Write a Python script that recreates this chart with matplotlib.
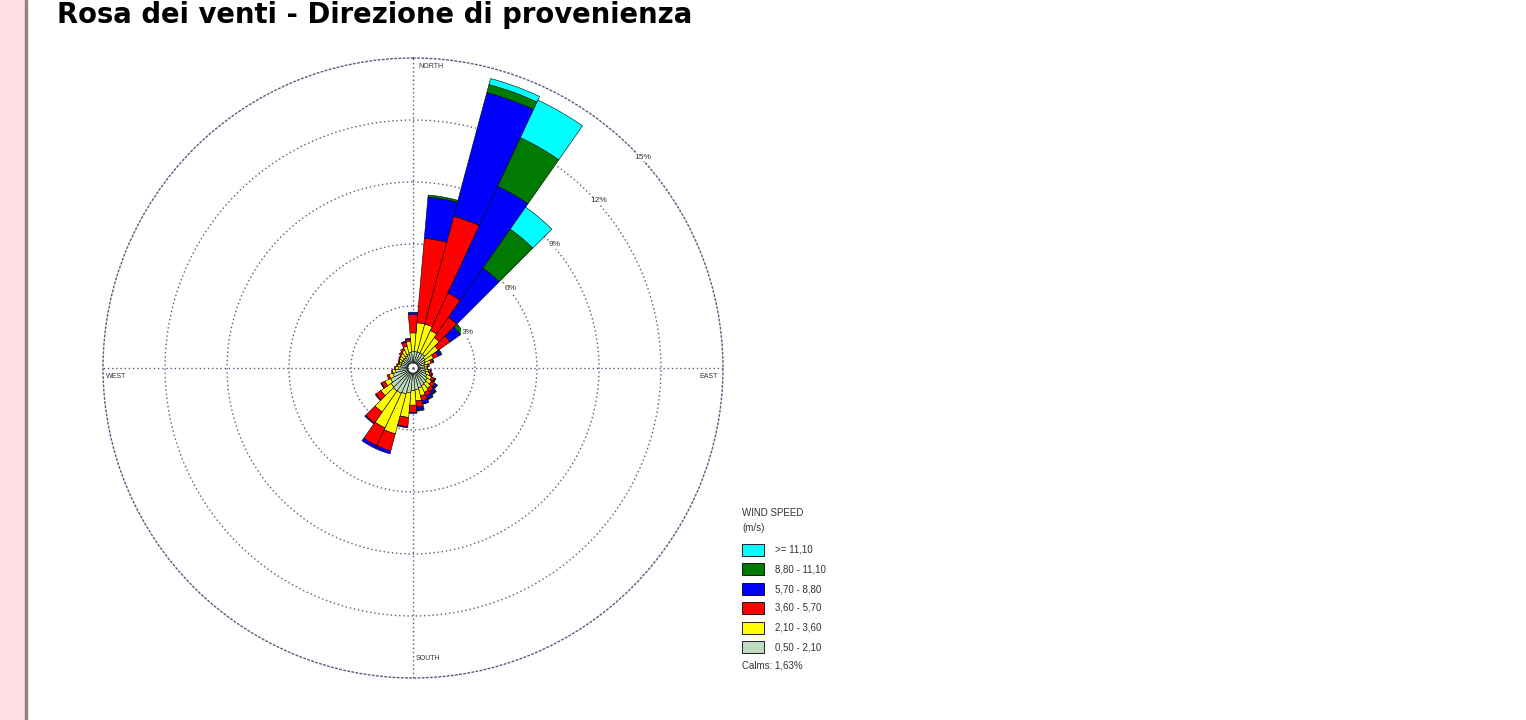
import numpy as np
import matplotlib
matplotlib.use("Agg")
import matplotlib.pyplot as plt
from matplotlib.patches import Rectangle

# wind directions (deg, blowing from), 36 sectors
directions = np.arange(0, 360, 10)

# frequency (%) for each speed class, one value per sector
calm_gray = [0.55, 0.55, 0.55, 0.55, 0.55, 0.45, 0.40, 0.35, 0.30, 0.30, 0.35, 0.40,
             0.50, 0.60, 0.65, 0.70, 0.75, 0.80, 0.85, 0.95, 1.05, 1.10, 1.10, 1.05,
             0.95, 0.75, 0.60, 0.45, 0.35, 0.35, 0.35, 0.35, 0.35, 0.40, 0.45, 0.50]
yellow = [0.90, 1.40, 1.40, 1.20, 1.00, 0.80, 0.45, 0.30, 0.15, 0.13, 0.15, 0.20,
          0.25, 0.25, 0.30, 0.35, 0.40, 0.55, 0.70, 1.20, 2.00, 1.85, 1.25, 0.60,
          0.30, 0.20, 0.15, 0.15, 0.15, 0.10, 0.15, 0.20, 0.25, 0.30, 0.40, 0.55]
red = [0.90, 4.10, 5.40, 2.00, 1.20, 0.70, 0.25, 0.10, 0.10, 0.04, 0.10, 0.10,
       0.15, 0.20, 0.20, 0.20, 0.25, 0.30, 0.35, 0.45, 0.85, 0.95, 0.65, 0.30,
       0.20, 0.10, 0.05, 0.05, 0.05, 0.05, 0.05, 0.05, 0.10, 0.10, 0.20, 0.10]
blue = [0.10, 2.00, 6.20, 5.70, 2.90, 0.60, 0.15, 0.05, 0.00, 0.00, 0.05, 0.05,
        0.05, 0.10, 0.15, 0.15, 0.15, 0.15, 0.05, 0.05, 0.15, 0.15, 0.05, 0.03,
        0.02, 0.00, 0.00, 0.00, 0.00, 0.00, 0.00, 0.00, 0.00, 0.00, 0.05, 0.05]
green = [0.00, 0.10, 0.40, 2.60, 2.30, 0.20, 0.05, 0.00, 0.00, 0.00, 0.00, 0.00,
         0.02, 0.05, 0.05, 0.05, 0.02, 0.05, 0.00, 0.00, 0.00, 0.00, 0.00, 0.00,
         0.00, 0.00, 0.00, 0.00, 0.00, 0.00, 0.00, 0.00, 0.00, 0.00, 0.00, 0.00]
cyan = [0.00, 0.00, 0.30, 2.00, 1.30, 0.00, 0.00, 0.00, 0.00, 0.00, 0.00, 0.00,
        0.00, 0.00, 0.00, 0.00, 0.00, 0.00, 0.00, 0.00, 0.00, 0.00, 0.00, 0.00,
        0.00, 0.00, 0.00, 0.00, 0.00, 0.00, 0.00, 0.00, 0.00, 0.00, 0.00, 0.00]

series = [calm_gray, yellow, red, blue, green, cyan]
colors = ["#c0dcc0", "#ffff00", "#ff0000", "#0000ff", "#007a00", "#00ffff"]
class_labels = ["0,50 - 2,10", "2,10 - 3,60", "3,60 - 5,70",
                "5,70 - 8,80", "8,80 - 11,10", ">= 11,10"]
ring_values = [3, 6, 9, 12, 15]
calms_text = "Calms: 1,63%"
title = "Rosa dei venti - Direzione di provenienza"

W, H = 1526, 720
fig = plt.figure(figsize=(W / 100, H / 100), dpi=100)

# pink side strip
fig.patches.append(Rectangle((0, 0), 25 / W, 1, transform=fig.transFigure,
                             color="#ffdfe5", zorder=0))
fig.patches.append(Rectangle((25 / W, 0), 2 / W, 1, transform=fig.transFigure,
                             color="#8f8285", zorder=0))

fig.text(57 / W, 1 - 23 / H, title, fontsize=19.8, fontweight="bold",
         family="DejaVu Sans", va="baseline", ha="left")

# polar axes: centre (413, 368) px, radius 310 px
cx, cy, rad = 413, 368, 310
ax = fig.add_axes([(cx - rad) / W, 1 - (cy + rad) / H, 2 * rad / W, 2 * rad / H],
                  projection="polar")
ax.set_theta_zero_location("N")
ax.set_theta_direction(-1)
ax.set_ylim(0, 15)

grid_col = "#5a5a80"
ax.set_rgrids([3, 6, 9, 12], labels=[""] * 4)
ax.set_thetagrids([0, 90, 180, 270], labels=[""] * 4)
ax.grid(True, color=grid_col, linestyle=(0, (1, 2)), linewidth=1.0)
ax.spines["polar"].set_linestyle((0, (1, 2)))
ax.spines["polar"].set_color(grid_col)
ax.spines["polar"].set_linewidth(1.0)
ax.set_axisbelow(True)

calm_r = 0.25
theta = np.deg2rad(directions)
width = np.deg2rad(10)
bottom = np.full(len(directions), calm_r)
for vals, col in zip(series, colors):
    vals = np.array(vals)
    m = vals > 0
    ax.bar(theta[m], vals[m], width=width, bottom=bottom[m], color=col,
           edgecolor="black", linewidth=0.4, zorder=3)
    bottom = bottom + vals

# ring labels
for r in ring_values:
    ax.annotate(f"{r}%", xy=(np.deg2rad(45), r), xytext=(7.5, -6),
                textcoords="offset points", fontsize=6, color="#333333",
                ha="center", va="center", family="Liberation Sans", zorder=5,
                bbox=dict(facecolor="white", edgecolor="none", pad=0.5))

lab = dict(fontsize=5, color="#333333", family="Liberation Sans",
           transform=ax.transAxes, va="center")
ax.text(0.508, 0.987, "NORTH", ha="left", **lab)
ax.text(0.992, 0.487, "EAST", ha="right", **lab)
ax.text(0.005, 0.486, "WEST", ha="left", **lab)
ax.text(0.505, 0.032, "SOUTH", ha="left", **lab)

# legend
lt = dict(fontsize=7, color="#333333", family="Liberation Sans", va="center")
fig.text(742 / W, 1 - 513 / H, "WIND SPEED", **lt)
fig.text(742 / W, 1 - 528 / H, "(m/s)", **lt)
ys = [550, 569, 589, 608, 628, 647]
for y, col, txt in zip(ys, colors[::-1], class_labels[::-1]):
    fig.patches.append(Rectangle((742 / W, 1 - (y + 6) / H), 22 / W, 12 / H,
                                 transform=fig.transFigure, facecolor=col,
                                 edgecolor="black", linewidth=0.6))
    fig.text(775 / W, 1 - y / H, txt, **lt)
fig.text(742 / W, 1 - 665 / H, calms_text, **lt)

fig.savefig("out.png", dpi=100)
